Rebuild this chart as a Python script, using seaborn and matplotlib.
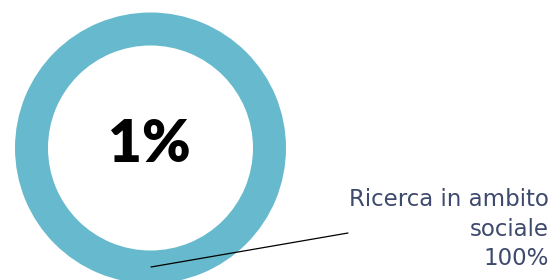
import matplotlib
matplotlib.use("Agg")
import matplotlib.pyplot as plt
import seaborn as sns

# -------------------------
# Data
# -------------------------
labels = ["Ricerca in ambito\nsociale"]
values = [100]
center_text = "1%"
ring_color = "#67bacd"
text_color = "#3e4a6d"

sns.set_theme(style="white")
plt.rcParams["font.family"] = ["Lato", "DejaVu Sans"]

fig = plt.figure(figsize=(5.56, 2.80), dpi=100)
ax = fig.add_axes([0, 0, 1, 1])

# donut in pixel-like coordinates
ax.pie(values, colors=[ring_color], radius=135.5, center=(150.5, 148),
       startangle=90, counterclock=False,
       wedgeprops=dict(width=33, edgecolor="none"))

ax.set_xlim(0, 556)
ax.set_ylim(280, 0)
ax.set_aspect("equal")
ax.axis("off")

ax.text(149, 145, center_text, ha="center", va="center",
        fontsize=42, fontweight="heavy", color="black",
        family=["Lato"])

total = sum(values)
for lab, val in zip(labels, values):
    pct = f"{val / total * 100:.0f}%"
    ax.text(549, 229, f"{lab}\n{pct}", ha="right", va="center",
            fontsize=16.5, fontweight="normal", color=text_color,
            family=["DejaVu Sans"], linespacing=1.34)

# leader line
ax.plot([151, 348], [267, 233], color="black", lw=0.9)

fig.savefig("out.png", dpi=100)
plt.close(fig)
